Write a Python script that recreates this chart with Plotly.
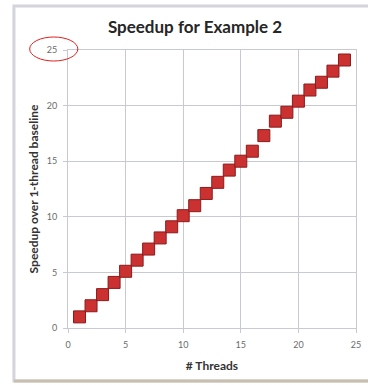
import plotly.graph_objects as go

threads = list(range(1, 25))
speedup = [1.0, 2.0, 3.0, 4.1, 5.1, 6.1, 7.1, 8.1, 9.1, 10.1, 11.0, 12.1,
           13.1, 14.2, 15.0, 15.9, 17.3, 18.6, 19.4, 20.4, 21.4, 22.1, 23.1, 24.1]
tick_vals = [0, 5, 10, 15, 20, 25]

W, H = 368, 385
L, R, T, B = 68, 7, 50, 57
pw, ph = W - L - R, H - T - B

def px(x):
    return (x - L) / pw

def py(y):
    return (H - B - y) / ph

fig = go.Figure()
fig.add_trace(go.Scatter(
    x=threads, y=speedup, mode="markers",
    marker=dict(symbol="square", size=12, color="#cc3131",
                line=dict(color="#8a1b1b", width=1)),
    cliponaxis=False, showlegend=False,
))

grid = "#c9c9d3"
axis_common = dict(
    range=[0, 25], tickvals=tick_vals, showgrid=True, gridcolor=grid, gridwidth=1,
    showline=True, linecolor=grid, linewidth=1, mirror=True, zeroline=False,
    ticks="outside", ticklen=4, tickcolor=grid, ticklabelstandoff=4,
    tickfont=dict(family="Lato, sans-serif", size=9, color="#6a6a6a"),
)

fig.update_layout(
    width=W, height=H,
    margin=dict(l=L, r=R, t=T, b=B),
    paper_bgcolor="white", plot_bgcolor="white",
    title=dict(text="<b>Speedup for Example 2</b>", x=(195) / W, xanchor="center",
               y=1 - 27 / H, yanchor="middle",
               font=dict(family="Lato, sans-serif", size=17, color="#262626")),
    xaxis=dict(**axis_common,
               title=dict(text="<b># Threads</b>", standoff=12,
                          font=dict(family="Lato, sans-serif", size=12, color="#333333"))),
    yaxis=dict(**axis_common,
               title=dict(text="<b>Speedup over 1-thread baseline</b>", standoff=5,
                          font=dict(family="Lato, sans-serif", size=12, color="#333333"))),
    shapes=[
        dict(type="rect", xref="paper", yref="paper",
             x0=px(13), x1=px(378), y0=py(381), y1=py(6),
             line=dict(color="#d4d4dc", width=3), layer="below"),
        dict(type="line", xref="paper", yref="paper",
             x0=px(13), x1=px(378), y0=py(381), y1=py(381),
             line=dict(color="#c9bfae", width=3)),
        dict(type="circle", xref="paper", yref="paper",
             x0=px(29), x1=px(78), y0=py(61), y1=py(37),
             line=dict(color="#e0201c", width=1)),
    ],
)

fig.write_html("out.html")
